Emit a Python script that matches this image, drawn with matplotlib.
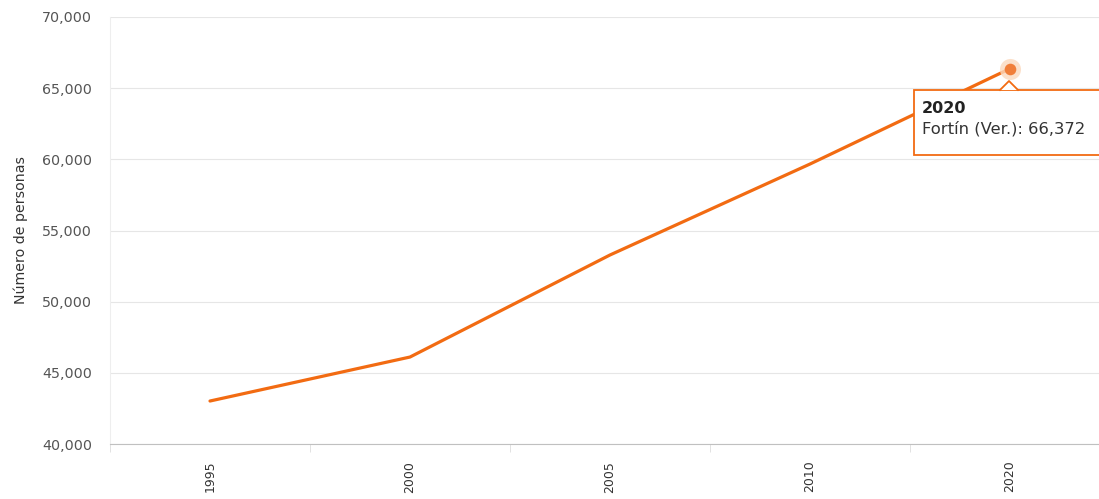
import numpy as np
import matplotlib
matplotlib.use("Agg")
import matplotlib.pyplot as plt
from matplotlib.patches import Rectangle, Polygon
from matplotlib.lines import Line2D

# data
years = ["1995", "2000", "2005", "2010", "2020"]
persons = [43020, 46110, 53280, 59670, 66372]
y_ticks = [40000, 45000, 50000, 55000, 60000, 65000, 70000]

orange = "#F26B12"
W, H = 1099, 499

fig = plt.figure(figsize=(W / 100, H / 100), dpi=100)
# axes spans x=110..1110 px, y=17..444 px
ax = fig.add_axes([110 / W, (H - 444) / H, 1000 / W, 427 / H])

x = np.arange(len(years))
ax.plot(x, persons, color=orange, lw=2.3, solid_capstyle="round", zorder=3)
# highlighted point with halo
ax.scatter([x[-1]], [persons[-1]], s=230, color="#FBD9BE", alpha=0.8, zorder=4, linewidths=0)
ax.scatter([x[-1]], [persons[-1]], s=70, color="#F07E3A", zorder=5, linewidths=0)

ax.set_xlim(-0.5, len(years) - 0.5)
ax.set_ylim(40000, 70000)
ax.set_yticks(y_ticks)
ax.set_yticklabels([f"{v:,}" for v in y_ticks], fontsize=10.3, color="#555555")
ax.set_xticks(x)
ax.set_xticklabels(years, rotation=90, fontsize=9, color="#333333")
ax.set_xticks(np.arange(-0.5, len(years), 1.0), minor=True)
ax.tick_params(axis="x", which="major", length=0, pad=12)
ax.tick_params(axis="x", which="minor", length=6, color="#DDDDDD", direction="out")
ax.tick_params(axis="y", length=0, pad=13)

ax.grid(axis="y", color="#E6E6E6", lw=0.8)
ax.set_axisbelow(True)
for side in ["top", "right"]:
    ax.spines[side].set_visible(False)
ax.spines["left"].set_color("#EEEEEE")
ax.spines["bottom"].set_color("#C0C0C0")

ax.set_ylabel("Número de personas", fontsize=10.2, color="#333333", labelpad=10)

# tooltip box
box = Rectangle((914 / W, (H - 155) / H), 200 / W, 65 / H, transform=fig.transFigure,
                facecolor="white", edgecolor=orange, lw=1.3, zorder=10)
fig.patches.append(box)
pts = [(1000 / W, (H - 90) / H), (1009 / W, (H - 81) / H), (1018 / W, (H - 90) / H)]
fig.patches.append(Polygon(pts, closed=True, transform=fig.transFigure,
                           facecolor="white", edgecolor="none", zorder=11))
fig.lines.append(Line2D([p[0] for p in pts], [p[1] for p in pts], transform=fig.transFigure,
                        color=orange, lw=1.3, zorder=12))
fig.text(922 / W, (H - 101) / H, "2020", fontsize=11.5, fontweight="bold",
         color="#222222", va="top", ha="left", zorder=12)
fig.text(922 / W, (H - 121) / H, "Fortín (Ver.): 66,372", fontsize=11.8,
         color="#333333", va="top", ha="left", zorder=12)

fig.savefig("out.png", dpi=100)
